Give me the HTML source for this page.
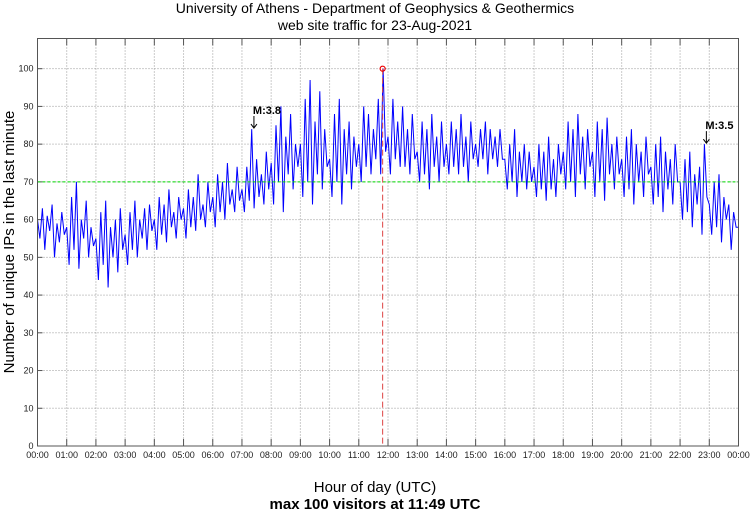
<!DOCTYPE html>
<html><head><meta charset="utf-8"><style>
body{margin:0;background:#fff;width:750px;height:511px;overflow:hidden}
svg{font-family:"Liberation Sans",sans-serif}
</style></head><body>
<svg id="chart" width="750" height="511" xmlns="http://www.w3.org/2000/svg">
<text x="375" y="13" text-anchor="middle" font-size="14">University of Athens - Department of Geophysics &amp; Geothermics</text>
<text x="375" y="30" text-anchor="middle" font-size="14">web site traffic for 23-Aug-2021</text>
<text x="375" y="492" text-anchor="middle" font-size="15">Hour of day (UTC)</text>
<text x="375" y="509" text-anchor="middle" font-size="15" font-weight="bold">max 100 visitors at 11:49 UTC</text>
<text transform="translate(14,242) rotate(-90)" text-anchor="middle" font-size="15">Number of unique IPs in the last minute</text>
<g id="grid"></g>
<g id="plot"></g>
<rect x="37.5" y="38.5" width="701" height="407.5" fill="none" stroke="#555" stroke-width="1"/>
</svg>
<script>
const hours=["00:00","01:00","02:00","03:00","04:00","05:00","06:00","07:00","08:00","09:00","10:00","11:00","12:00","13:00","14:00","15:00","16:00","17:00","18:00","19:00","20:00","21:00","22:00","23:00","00:00"];
const yTicks=[0,10,20,30,40,50,60,70,80,90,100];
const refLevel=70;
const maxValue=100;
const maxTime=11+49/60;
const quakes=[{t:7.41,v:84,label:"M:3.8"},{t:22.9,v:80,label:"M:3.5"}];
const visitors=[
60,55,63,52,61,57,64,50,59,54,62,56,
58,48,66,52,70,47,60,55,65,50,58,53,
55,44,62,48,65,42,58,50,60,46,63,52,
56,48,62,52,65,50,60,55,63,52,64,57,
60,52,66,56,64,54,68,58,62,55,66,60,
63,55,68,58,66,57,72,60,64,58,70,62,
66,58,72,62,70,60,75,64,68,62,74,65,
68,62,74,65,84,63,76,66,72,64,78,68,
75,64,85,70,90,62,82,72,88,68,80,74,
80,66,92,70,97,64,86,72,94,68,84,74,
76,66,88,70,92,64,84,72,86,68,82,74,
80,70,90,74,88,72,84,76,92,72,100,78,
82,72,92,76,86,74,90,74,84,72,88,76,
78,70,86,72,84,68,88,74,82,70,86,74,
80,72,86,74,84,72,88,74,82,70,86,76,
80,74,84,76,86,72,84,76,82,74,84,76,
76,68,80,70,84,66,78,70,80,68,78,70,
74,66,80,68,78,65,82,68,76,66,80,72,
78,68,86,70,84,66,88,72,82,68,84,74,
78,66,86,70,84,65,87,72,80,68,82,72,
76,66,82,68,84,64,80,70,78,66,82,72,
74,64,80,66,82,62,78,68,76,64,80,70,
70,60,76,62,78,58,72,64,74,56,80,66,
64,56,70,58,72,54,66,60,64,52,62,58,58];
const X0=37.5,X1=738.5,Y0=446,YT=38.5,YMAX=108;
const xs=h=>X0+h/24*(X1-X0);
const ys=v=>Y0-v/YMAX*(Y0-YT);
const NS="http://www.w3.org/2000/svg";
function mk(tag,attrs,parent){const e=document.createElementNS(NS,tag);for(const k in attrs)e.setAttribute(k,attrs[k]);parent.appendChild(e);return e;}
const grid=document.getElementById('grid'),plot=document.getElementById('plot');
hours.forEach((lab,i)=>{
  const x=xs(i);
  if(i>0&&i<24){const g=mk('line',{x1:x,x2:x,y1:YT,y2:Y0,stroke:'#999','stroke-dasharray':'1,2','stroke-width':1},grid);
  
  }
  const t1=mk('line',{x1:x,x2:x,y1:Y0,y2:Y0-7,stroke:'#555'},grid);
  
  
  const t2=mk('line',{x1:x,x2:x,y1:YT,y2:YT+7,stroke:'#555'},grid);
  
  
  const tx=mk('text',{x:x,y:458,'text-anchor':'middle','font-size':9,fill:'#222'},grid);tx.textContent=lab;
  
  
});
yTicks.forEach(v=>{
  const y=ys(v);
  if(v>0){const g=mk('line',{x1:X0,x2:X1,y1:y,y2:y,stroke:'#999','stroke-dasharray':'1,2'},grid);
  
  }
  const t=mk('line',{x1:X0,x2:X0+5,y1:y,y2:y,stroke:'#555'},grid);
  
  
  const tx=mk('text',{x:X0-4,y:y+3,'text-anchor':'end','font-size':9,fill:'#222'},grid);tx.textContent=v;
  
  
});
const n=visitors.length-1;
const pts=visitors.map((v,i)=>xs(i/n*24).toFixed(1)+','+ys(v).toFixed(1)).join(' ');
const line=mk('polyline',{points:pts,fill:'none',stroke:'#0000ff','stroke-width':1},plot);


const ref=mk('line',{x1:X0,x2:X1,y1:ys(refLevel),y2:ys(refLevel),stroke:'#00dd00','stroke-dasharray':'3,2','stroke-width':1},plot);


const mv=mk('line',{x1:xs(maxTime),x2:xs(maxTime),y1:ys(maxValue),y2:Y0,stroke:'#dd4444','stroke-dasharray':'6,3','stroke-width':1},plot);


const mc=mk('circle',{cx:xs(maxTime),cy:ys(maxValue),r:2.5,fill:'none',stroke:'#ee0000','stroke-width':1.2},plot);


quakes.forEach(q=>{
  const x=xs(q.t),y=ys(q.v);
  const tx=mk('text',{x:x-1,y:y-15,'font-size':11,'font-weight':'bold'},plot);tx.textContent=q.label;
  
  
  const a=mk('path',{d:`M${x},${y-13} L${x},${y-1} M${x-3},${y-5} L${x},${y-1} L${x+3},${y-5}`,stroke:'#000',fill:'none','stroke-width':1},plot);
  
  
});
</script>
</body></html>
